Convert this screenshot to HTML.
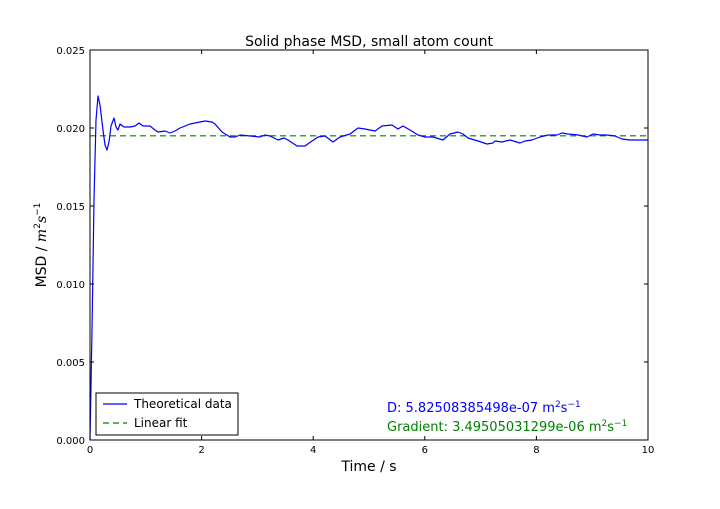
<!DOCTYPE html>
<html><head><meta charset="utf-8"><style>body{margin:0;background:#fff}</style></head><body>
<svg width="720" height="504" xmlns="http://www.w3.org/2000/svg" font-family="DejaVu Sans, Liberation Sans, sans-serif">
<rect width="720" height="504" fill="#fff"/>
<line x1="90" y1="135.8" x2="648" y2="135.8" stroke="#008000" stroke-width="1.2" stroke-dasharray="6,4"/>
<polyline fill="none" stroke="#0000ff" stroke-width="1.2" stroke-linejoin="round" points="90,440 92,330 94,200 96,120 98,96 100,105 103,130 105,145 107,150 109,142 111,126 114,118 116,127 118,130 120,124 124,127 130,127 135,126 139,123 143,126 150,126 155,130 158,132 165,131 170,133 175,131 180,128 190,124 200,122 205,121 212,122 215,124 222,132 230,137 235,137 240,135 250,136 260,137 265,135 270,136 278,140 284,138 288,140 297,146 305,146 312,141 318,137 325,136 333,142 340,137 350,134 358,128 365,129 375,131 382,126 392,125 398,129 403,126 410,130 418,135 425,137 433,137 443,140 450,134 458,132 463,134 468,138 478,141 487,144 493,143 495,141 502,142 510,140 520,143 525,141 532,140 540,137 548,135 557,135 562,133 568,134 578,135 587,137 593,134 600,135 607,135 615,136 622,139 630,140 640,140 648,140"/>
<rect x="90" y="50" width="558" height="390" fill="none" stroke="#000" stroke-width="1"/>
<g stroke="#000" stroke-width="1">
<line x1="90" y1="440" x2="90" y2="436"/><line x1="201.6" y1="440" x2="201.6" y2="436"/><line x1="313.2" y1="440" x2="313.2" y2="436"/><line x1="424.8" y1="440" x2="424.8" y2="436"/><line x1="536.4" y1="440" x2="536.4" y2="436"/>
<line x1="201.6" y1="50" x2="201.6" y2="54"/><line x1="313.2" y1="50" x2="313.2" y2="54"/><line x1="424.8" y1="50" x2="424.8" y2="54"/><line x1="536.4" y1="50" x2="536.4" y2="54"/>
<line x1="90" y1="362" x2="94" y2="362"/><line x1="90" y1="284" x2="94" y2="284"/><line x1="90" y1="206" x2="94" y2="206"/><line x1="90" y1="128" x2="94" y2="128"/>
<line x1="648" y1="362" x2="644" y2="362"/><line x1="648" y1="284" x2="644" y2="284"/><line x1="648" y1="206" x2="644" y2="206"/><line x1="648" y1="128" x2="644" y2="128"/>
</g>
<g font-size="10" text-anchor="middle">
<text x="90" y="453">0</text><text x="201.6" y="453">2</text><text x="313.2" y="453">4</text><text x="424.8" y="453">6</text><text x="536.4" y="453">8</text><text x="648" y="453">10</text>
</g>
<g font-size="10" text-anchor="end">
<text x="85" y="444">0.000</text><text x="85" y="366">0.005</text><text x="85" y="288">0.010</text><text x="85" y="210">0.015</text><text x="85" y="132">0.020</text><text x="85" y="54">0.025</text>
</g>
<text x="369" y="46" font-size="14" text-anchor="middle">Solid phase MSD, small atom count</text>
<text x="369" y="471" font-size="14" text-anchor="middle">Time / s</text>
<text transform="translate(46,245) rotate(-90)" font-size="14" text-anchor="middle">MSD / <tspan font-style="italic" font-family="DejaVu Serif, serif">m</tspan><tspan font-size="9" dy="-6">2</tspan><tspan font-style="italic" font-family="DejaVu Serif, serif" dy="6">s</tspan><tspan font-size="9" dy="-6">−1</tspan></text>
<rect x="96" y="393" width="142" height="42" fill="#fff" stroke="#000" stroke-width="1"/>
<line x1="103" y1="404" x2="127" y2="404" stroke="#0000ff" stroke-width="1.2"/>
<text x="134" y="408" font-size="12">Theoretical data</text>
<line x1="103" y1="423" x2="127" y2="423" stroke="#008000" stroke-width="1.2" stroke-dasharray="6,4"/>
<text x="134" y="427" font-size="12">Linear fit</text>
<text x="387" y="412" font-size="13" fill="#0000ff">D: 5.82508385498e-07 m<tspan font-size="9" dy="-5">2</tspan><tspan dy="5">s</tspan><tspan font-size="9" dy="-5">−1</tspan></text>
<text x="387" y="431" font-size="13" fill="#008000">Gradient: 3.49505031299e-06 m<tspan font-size="9" dy="-5">2</tspan><tspan dy="5">s</tspan><tspan font-size="9" dy="-5">−1</tspan></text>
</svg>
</body></html>
